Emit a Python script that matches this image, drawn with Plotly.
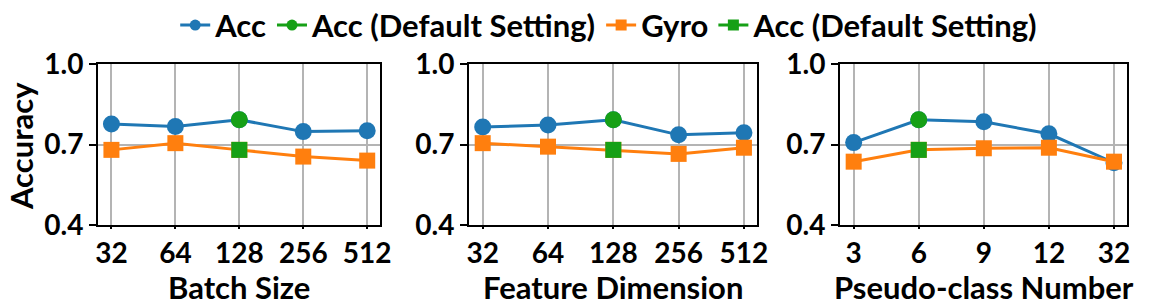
import plotly.graph_objects as go

batch_sizes = ["32", "64", "128", "256", "512"]
feature_dims = ["32", "64", "128", "256", "512"]
pseudo_classes = ["3", "6", "9", "12", "32"]

acc_batch = [0.776, 0.767, 0.792, 0.748, 0.751]
gyro_batch = [0.680, 0.705, 0.680, 0.655, 0.640]
acc_feat = [0.765, 0.773, 0.792, 0.736, 0.744]
gyro_feat = [0.705, 0.692, 0.680, 0.665, 0.688]
acc_pseudo = [0.707, 0.792, 0.785, 0.740, 0.632]
gyro_pseudo = [0.636, 0.680, 0.686, 0.688, 0.636]

default_idx = [2, 2, 1]  # default setting position per panel

BLUE = "#1f77b4"
ORANGE = "#ff7f0e"
GREEN = "#16a016"
FONT = "Lato"

panels = [
    (batch_sizes, acc_batch, gyro_batch, "Batch Size"),
    (feature_dims, acc_feat, gyro_feat, "Feature Dimension"),
    (pseudo_classes, acc_pseudo, gyro_pseudo, "Pseudo-class Number"),
]

W, H = 1156, 306
xdoms = [(98, 380), (469, 757), (840, 1127)]
ydom = [(H - 225) / H, (H - 64) / H]


def bold(size):
    return dict(family=FONT, size=size, color="black", weight="bold")


fig = go.Figure()
layout = dict()
annotations = []
for i, (cats, acc, gyro, title) in enumerate(panels):
    k = "" if i == 0 else str(i + 1)
    xa, ya = "x" + k, "y" + k
    d = default_idx[i]
    fig.add_trace(go.Scatter(x=cats, y=acc, xaxis=xa, yaxis=ya, mode="lines+markers",
                             name="Acc", showlegend=False,
                             line=dict(color=BLUE, width=3),
                             marker=dict(symbol="circle", size=17, color=BLUE)))
    fig.add_trace(go.Scatter(x=cats, y=gyro, xaxis=xa, yaxis=ya, mode="lines+markers",
                             name="Gyro", showlegend=False,
                             line=dict(color=ORANGE, width=3),
                             marker=dict(symbol="square", size=16, color=ORANGE)))
    fig.add_trace(go.Scatter(x=[cats[d]], y=[acc[d]], xaxis=xa, yaxis=ya, mode="markers",
                             name="Acc (Default Setting)", showlegend=False,
                             marker=dict(symbol="circle", size=17, color=GREEN)))
    fig.add_trace(go.Scatter(x=[cats[d]], y=[gyro[d]], xaxis=xa, yaxis=ya, mode="markers",
                             name="Acc (Default Setting)", showlegend=False,
                             marker=dict(symbol="square", size=16, color=GREEN)))
    axis_common = dict(showline=True, mirror=True, linecolor="black", linewidth=2,
                       showgrid=True, gridcolor="#b4b4b4", gridwidth=2, zeroline=False,
                       ticks="outside", tickwidth=2, tickcolor="black",
                       automargin=False, tickfont=bold(28))
    layout["xaxis" + k] = dict(axis_common, type="category", range=[-0.21, 4.2], ticklen=2,
                               domain=[xdoms[i][0] / W, xdoms[i][1] / W], anchor=ya)
    layout["yaxis" + k] = dict(axis_common, range=[0.4, 1.0], tickvals=[0.4, 0.7, 1.0], ticklen=7,
                               ticktext=["0.4", "0.7", "1.0"], domain=ydom, anchor=xa)
    annotations.append(dict(text=title, xref="paper", yref="paper",
                            x=(xdoms[i][0] + xdoms[i][1]) / 2 / W, y=1 - 287 / H,
                            xanchor="center", yanchor="middle", showarrow=False, font=bold(31)))

annotations.append(dict(text="Accuracy", xref="paper", yref="paper", x=21 / W, y=1 - 146 / H,
                        xanchor="center", yanchor="middle", textangle=-90, showarrow=False,
                        font=bold(31)))

# legend-only entries (smaller legend symbols)
legend_items = [
    ("Acc", BLUE, "circle"),
    ("Acc (Default Setting)", GREEN, "circle"),
    ("Gyro", ORANGE, "square"),
    ("Acc (Default Setting)", GREEN, "square"),
]
for name, color, sym in legend_items:
    fig.add_trace(go.Scatter(x=[None], y=[None], mode="lines+markers", name=name,
                             line=dict(color=color, width=3),
                             marker=dict(symbol=sym, size=11, color=color),
                             showlegend=True))

fig.update_layout(
    **layout,
    annotations=annotations,
    width=W, height=H,
    margin=dict(l=0, r=0, t=0, b=0, autoexpand=False),
    paper_bgcolor="white", plot_bgcolor="white",
    legend=dict(orientation="h", x=0.527, xanchor="center", y=1.005, yanchor="top",
                font=bold(31), itemwidth=30, tracegroupgap=0, bgcolor="rgba(0,0,0,0)"),
    showlegend=True,
)

fig.write_html("out.html", config={"displayModeBar": False},
               post_script="document.body.style.margin='0px';")
